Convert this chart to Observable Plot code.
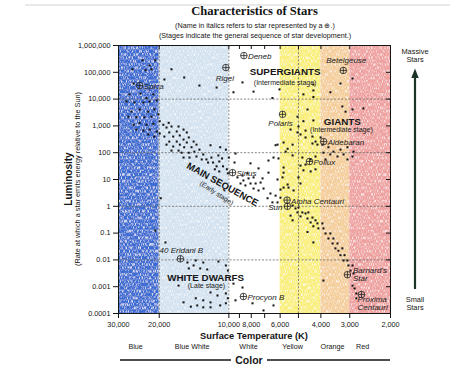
<!DOCTYPE html>
<html><head><meta charset="utf-8">
<script src="https://cdn.jsdelivr.net/npm/d3@7"></script>
<script src="https://cdn.jsdelivr.net/npm/@observablehq/plot@0.6"></script>
<style>
html,body{margin:0;padding:0;background:#fff;}
#chart{width:474px;height:366px;overflow:hidden;}
</style></head><body><div id="chart"></div>
<script>
// ---- data (temperature K, luminosity relative to Sun) ----
const hotT = [23600,20800,22000,26100,22900,21600,25800,26900,24100,22700,
  21200,27700,25600,23400,22000,20500,26400,24300,22300,21000,
  27200,25100,23200,21600,20200,25800,24300,22700,21200,19900,
  25100,23400,22000,20500,22300,21000,19900,19200,18200,17700,
  18600,16500,15700,16800,18100,19000,17400,16300,15200,14900,
  15700,16800,18100,18600,17400,16300,15200,14200,13800,14500,
  15600,16500,17700,16000,14900,14100,13400,12900,13800,14800,
  15700,13100,12500,11900,12300,11700,11300,11000,10600,10200,
  11500,11000,9450,17700,19000,15600,13400,11300,9550,8730,
  7820,6480,6040];
const hotL = [280000,280000,180000,130000,120000,130000,38000,15000,16000,11000,
  15000,8100,7500,7500,8100,8900,3400,4100,3400,4100,
  2200,2100,2100,2200,2700,1100,1300,1100,1200,1500,
  730,670,730,620,480,400,520,1100,1300,950,
  870,950,730,620,570,400,400,440,570,370,
  310,260,260,200,170,200,240,260,200,160,
  160,120,120,100,100,110,130,86,72,66,
  66,56,56,66,43,43,31,47,31,24,
  24,20,43,130000,54000,64000,32000,27000,18000,42000,
  19000,11000,23000];
const midT = [12000,10900,10300,11100,10000,10700,10100,9360,9180,8730,
  8310,8650,8220,7820,8900,8480,8060,7660,7290,7820,
  7440,7080,7150,6740,6610,6280,6800,6480,6160,5980,
  5860,5800,5520,5250,4900,6280,5570,5300,4900,4760,
  5000,6100,5800,8060,7440,6740];
const midL = [190,160,130,79,66,61,17,93,12,14,
  17,9.2,11,12,7.1,6,7.1,7.1,7.7,4.6,
  3.9,4.6,11,18,3.0,2.5,2.0,1.4,1.4,2.1,
  12,5.0,5.0,3.9,7.1,190,140,79,33,22,
  12,61,28,40,26,51];
const giantT = [2920,3290,3640,4310,4310,4310,4760,3230,3130,2920,
  2620,4570,5050,4760,4310,5000,4660,4900,4660,4350,
  4220,4350,4140,4010,3940,3710,3530,3290,3070,2890,
  3190,3390,3640,3900,3820,3070,2920,4220,4430,4810,
  4660,4430,4220,5800,5300,6160,5680,5800,6160,5570,
  5980,6410,5410,5050];
const giantL = [59000,38000,18000,35000,21000,12000,15000,5300,3400,4100,
  4500,4100,2200,1500,1600,950,670,480,370,400,
  260,220,200,370,200,160,110,130,160,110,
  86,72,86,100,56,56,72,72,56,66,
  36,20,24,240,200,200,110,18,10,6.5,
  4.2,66,730,570];
const coolT = [5300,5150,5000,5050,4810,4660,4530,4900,4570,4350,
  4220,4430,4140,3940,4310,4100,3900,3820,3640,3710,
  3530,3560,3390,3460,3360,3230,3290,3160,3190,3070,
  3040,2920,2980,2890,2920,2860,2810,2810,4570,4310,
  5300,3900,5410];
const coolL = [1.07,0.83,0.90,0.59,0.59,0.54,0.59,0.42,0.35,0.38,
  0.30,0.25,0.23,0.23,0.18,0.15,0.15,0.097,0.097,0.063,
  0.063,0.041,0.041,0.027,0.022,0.027,0.015,0.015,0.0095,0.0095,
  0.0062,0.0062,0.004,0.0031,0.0011,0.00086,0.00056,0.00037,0.11,0.045,
  0.30,0.0017,0.45];
const dwarfT = [19700,20800,18800,15100,13900,12900,11100,14900,14200,13300,
  12400,10300,10100,16500,9550,8730,12000,11200,10300,10100,
  13900,12900,12000,13700,15700,14600,12900,12000,10900,10300,
  9360,7900,7080,6410];
const dwarfL = [2.0,0.125,0.045,0.008,0.0095,0.008,0.0087,0.0048,0.0062,0.0048,
  0.0044,0.0062,0.004,0.0011,0.0013,0.00093,0.00061,0.00047,0.00056,0.00037,
  0.00037,0.00031,0.00026,0.0002,0.00026,0.00018,0.00017,0.00017,0.0002,0.00024,
  0.00031,0.00024,0.00013,0.0002];

const namedStars = ["Deneb","Rigel","Spica","Polaris","Betelgeuse","Aldebaran","Pollux","Sirius",
  "Alpha Centauri","Sun","40 Eridani B","Procyon B","Barnard's Star","Proxima Centauri"];
const namedT = [8610,10300,24300,5860,3200,3890,4480,9640,5600,5580,16200,8650,3070,2670];
const namedL = [420000,150000,32000,2700,117000,260,47,18,1.7,1,0.011,0.00043,0.0028,0.00051];

const yTicks = [1e6,1e5,1e4,1e3,100,10,1,0.1,0.01,0.001,0.0001];
const yTickLabels = ["1,000,000","100,000","10,000","1,000","100","10","1","0.1","0.01","0.001","0.0001"];
const xTicks = [30000,20000,10000,9000,8000,7000,6000,5000,4000,3000,2000];
const xLabelTicks = [30000,20000,10000,8000,6000,4000,3000,2000];
const xTickLabels = ["30,000","20,000","10,000","8,000","6,000","4,000","3,000","2,000"];

const colorNames = ["Blue","Blue White","White","Yellow","Orange","Red"];
const colorFromT = [30000,20000,10000,6000,4000,3000];
const colorToT = [20000,10000,6000,4000,3000,2000];
const colorLabelT = [25300,14400,8220,5300,3560,2640];

const gridL = [1e4,100,1,0.01];
const gridT = [20000,10000,5000];

const regionNames = ["SUPERGIANTS","GIANTS","WHITE DWARFS"];
const regionT = [5710,3230,12600];
const regionL = [100000,1400,0.0022];
const stageNames = ["(Intermediate stage)","(Intermediate stage)","(Late stage)"];
const stageT = [5710,3260,12500];
const stageL = [42000,700,0.0011];
const mainSeqName = ["MAIN SEQUENCE"]; const mainSeqT = [10650]; const mainSeqL = [6.5];
const earlyName = ["(Early stage)"]; const earlyT = [11300]; const earlyL = [3.1];

// ---- styling ----
const bandFill = ["#3a6cd2","#d3e2f0","#ffffff","#f9ef78","#f4cd98","#eea09e"];
const ink = "#151515";
const sans = "'Liberation Sans', Arial, sans-serif";

const stars = [[hotT,hotL],[midT,midL],[giantT,giantL],[coolT,coolL],[dwarfT,dwarfL]]
  .flatMap(([ts,ls]) => ts.map((T,i) => ({T, L: ls[i]})));
const named = namedStars.map((name,i) => ({name, T: namedT[i], L: namedL[i]}));
const bands = colorNames.map((name,i) => ({name, x1: colorFromT[i], x2: colorToT[i], fill: bandFill[i], lx: colorLabelT[i]}));
const regions = regionNames.map((t,i) => ({t, T: regionT[i], L: regionL[i]}));
const stages = stageNames.map((t,i) => ({t, T: stageT[i], L: stageL[i]}));
const yLab = new Map(yTicks.map((v,i) => [v, yTickLabels[i]]));
const xLabels = xLabelTicks.map((v,i) => ({v, t: xTickLabels[i]}));

const circlePlus = {draw(ctx, size) {
  const r = Math.sqrt(size / Math.PI);
  ctx.moveTo(r, 0); ctx.arc(0, 0, r, 0, 2 * Math.PI);
  ctx.moveTo(-r, 0); ctx.lineTo(r, 0);
  ctx.moveTo(0, -r); ctx.lineTo(0, r);
}};
const pick = names => named.filter(d => names.includes(d.name));
const lbl = {x: "T", y: "L", text: "name", fontStyle: "italic", fontSize: 8, fill: "#222"};

const plot = Plot.plot({
  width: 474, height: 366,
  marginLeft: 118, marginRight: 84, marginTop: 45, marginBottom: 53,
  style: {fontFamily: sans, fontSize: "7.3px", color: ink, background: "#fff", overflow: "visible"},
  x: {type: "log", domain: [30000, 2000], label: null},
  y: {type: "log", domain: [0.0001, 1e6], label: null},
  color: {type: "identity"},
  marks: [
    Plot.rect(bands, {x1: "x1", x2: "x2", fill: "fill"}),
    Plot.ruleY(gridL, {stroke: "#666", strokeDasharray: "2,1.6", strokeWidth: 0.8}),
    Plot.ruleX(gridT, {stroke: "#666", strokeDasharray: "2,1.6", strokeWidth: 0.8}),
    Plot.frame({stroke: ink, strokeWidth: 1}),
    Plot.axisY(yTicks, {anchor: "left", tickSize: 5, tickPadding: 3, tickFormat: d => yLab.get(d), label: null}),
    Plot.axisX(xTicks, {anchor: "bottom", tickSize: 5, tickFormat: () => "", label: null}),
    Plot.text(xLabels, {x: "v", text: "t", frameAnchor: "bottom", lineAnchor: "top", dy: 8, fill: ink}),
    Plot.tickY(yTicks, {insetLeft: 268, stroke: ink}),
    Plot.tickX(xTicks, {insetBottom: 264, stroke: ink}),
    Plot.dot(stars, {x: "T", y: "L", symbol: "square", r: 1.15, fill: ink}),
    Plot.dot(named, {x: "T", y: "L", symbol: circlePlus, r: 3.3, stroke: "#222", strokeWidth: 0.8, fill: "none"}),
    Plot.text(pick(["Deneb","Spica","Aldebaran","Pollux","Sirius","Alpha Centauri","Procyon B"]), {...lbl, textAnchor: "start", dx: 4, dy: 1}),
    Plot.text(pick(["Rigel"]), {...lbl, dx: -1, dy: 11}),
    Plot.text(pick(["Polaris"]), {...lbl, dx: -2, dy: 9.5}),
    Plot.text(pick(["Betelgeuse"]), {...lbl, dx: 3, dy: -10}),
    Plot.text(pick(["40 Eridani B"]), {...lbl, dx: 1, dy: -8}),
    Plot.text(pick(["Sun"]), {...lbl, textAnchor: "end", dx: -5, dy: 1}),
    Plot.text(pick(["Barnard's Star"]), {...lbl, text: d => d.name.replace(" ", "\n"), textAnchor: "start", dx: 5.5, lineHeight: 0.95}),
    Plot.text(pick(["Proxima Centauri"]), {...lbl, text: d => d.name.replace(" ", "\n"), textAnchor: "start", dx: -4, lineAnchor: "top", dy: 2.5, lineHeight: 0.95}),
    Plot.text(regions, {x: "T", y: "L", text: "t", fontWeight: "bold", fontSize: 9.8, fill: ink}),
    Plot.text(stages, {x: "T", y: "L", text: "t", fontSize: 7, fill: "#222"}),
    Plot.text(mainSeqName, {x: () => mainSeqT[0], y: () => mainSeqL[0], text: d => d, rotate: 29, fontWeight: "bold", fontSize: 9.5, fill: ink}),
    Plot.text(earlyName, {x: () => earlyT[0], y: () => earlyL[0], text: d => d, rotate: 33, fontSize: 6.8, fill: "#222"}),
    Plot.text(bands, {x: "lx", text: "name", frameAnchor: "bottom", dy: 35, fontSize: 7.2, fill: ink})
  ]
});

const svg = d3.select(plot);
// crayon-like texture on the colour bands
const defs = svg.insert("defs", ":first-child");
const f = defs.append("filter").attr("id", "crayon").attr("filterUnits", "objectBoundingBox")
  .attr("x", 0).attr("y", 0).attr("width", 1).attr("height", 1);
f.append("feTurbulence").attr("type", "fractalNoise").attr("baseFrequency", "1.0 0.3")
  .attr("numOctaves", 2).attr("seed", 4).attr("result", "noise");
f.append("feColorMatrix").attr("in", "noise").attr("type", "matrix")
  .attr("values", "0 0 0 0 1  0 0 0 0 1  0 0 0 0 1  -2.4 0 0 0 1.3").attr("result", "speck");
f.append("feComposite").attr("in", "speck").attr("in2", "SourceGraphic").attr("operator", "atop");
svg.select('g[aria-label="rect"]').attr("filter", "url(#crayon)");

const add = (x, y, txt, o = {}) => svg.append("text")
  .attr("x", x).attr("y", y).attr("text-anchor", o.anchor || "middle")
  .attr("font-family", o.family || sans).attr("font-size", o.size || 7.4)
  .attr("font-weight", o.weight || "normal").attr("fill", o.fill || ink)
  .attr("transform", o.rotate ? `rotate(${o.rotate},${x},${y})` : null)
  .text(txt);

svg.append("line").attr("x1", 25).attr("x2", 450).attr("y1", 5).attr("y2", 5).attr("stroke", "#c8c8c8").attr("stroke-width", 0.8);
add(254.5, 15, "Characteristics of Stars", {family: "'Liberation Serif', 'Times New Roman', serif", size: 12.6, weight: "bold"});
add(255, 28, "(Name in italics refers to star represented by a \u2295.)", {size: 7.2});
add(255, 37.5, "(Stages indicate the general sequence of star development.)", {size: 7.2});
add(72, 179, "Luminosity", {size: 10, weight: "bold", rotate: -90});
add(80, 179, "(Rate at which a star emits energy relative to the Sun)", {size: 7.3, rotate: -90});
add(254, 338.5, "Surface Temperature (K)", {size: 9.3, weight: "bold"});
add(249, 363.5, "Color", {size: 10.5, weight: "bold"});
svg.append("line").attr("x1", 120).attr("x2", 231).attr("y1", 360).attr("y2", 360).attr("stroke", ink).attr("stroke-width", 1.3);
svg.append("line").attr("x1", 267).attr("x2", 390).attr("y1", 360).attr("y2", 360).attr("stroke", ink).attr("stroke-width", 1.3);
add(415, 54, "Massive");
add(415, 62, "Stars");
add(415, 301.5, "Small");
add(415, 310, "Stars");
svg.append("line").attr("x1", 415).attr("x2", 415).attr("y1", 289).attr("y2", 76).attr("stroke", "#1c3328").attr("stroke-width", 2.2);
svg.append("path").attr("d", "M415,68.5 L411.3,78 L418.7,78 Z").attr("fill", "#1c3328");

document.getElementById("chart").appendChild(plot);
</script></body></html>
